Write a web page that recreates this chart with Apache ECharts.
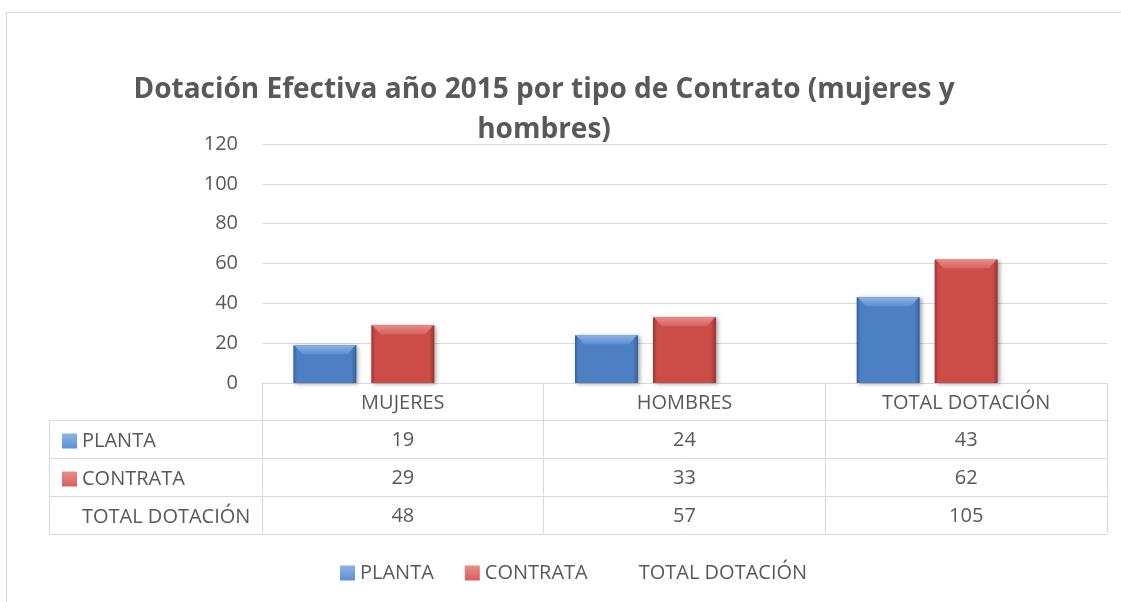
<!DOCTYPE html>
<html>
<head>
<meta charset="utf-8">
<title>Dotación Efectiva 2015</title>
<script src="https://cdn.jsdelivr.net/npm/echarts@6/dist/echarts.min.js"></script>
<style>
  html, body { margin: 0; padding: 0; background: #fff; overflow: hidden; }
  #frame { position: absolute; left: 6px; top: 12px; width: 1200px; height: 700px; border: 1px solid #d9d9d9; }
  #chart { position: absolute; left: 0; top: 0; width: 1121px; height: 602px; }
</style>
</head>
<body>
<div id="frame"></div>
<div id="chart"></div>
<script>
// data
const categories = ['MUJERES', 'HOMBRES', 'TOTAL DOTACIÓN']
const seriesNames = ['PLANTA', 'CONTRATA', 'TOTAL DOTACIÓN']
const planta = [19, 24, 43]
const contrata = [29, 33, 62]
const totalDotacion = [48, 57, 105]
const yTicks = [0, 20, 40, 60, 80, 100, 120]
const titleText = 'Dotación Efectiva año 2015 por tipo de Contrato (mujeres y\nhombres)'

const textColor = '#595959'
const lineColor = '#d9d9d9'
const font = '"Open Sans", "Noto Sans", sans-serif'
const tableFont = 20
// table row lines, below the plot bottom
const rowOffsets = [0, 37, 75, 113, 151]
const barW = 63
const barGap = 15

const palette = {
  blue: { edge: '#33609c', body: '#4d80c3', top: '#8cb2e6', topEnd: '#5d8fd2' },
  red: { edge: '#983330', body: '#cc4c48', top: '#e98d89', topEnd: '#d75f5b' }
}

function sideFill(c) {
  return new echarts.graphic.LinearGradient(0, 0, 1, 0, [
    { offset: 0, color: c.edge },
    { offset: 0.06, color: c.body },
    { offset: 0.92, color: c.body },
    { offset: 1, color: c.edge }
  ])
}
function topFill(c) {
  return new echarts.graphic.LinearGradient(0, 0, 0, 1, [
    { offset: 0, color: c.top },
    { offset: 1, color: c.topEnd }
  ])
}

// bevelled bar, placed with the chart's own scales
function bevelBar(slot, c) {
  return function (params, api) {
    const cat = api.value(0)
    const top = api.coord([cat, api.value(1)])
    const base = api.coord([cat, 0])
    const x = base[0] + (slot - 1) * (barW + barGap) - barW / 2
    const y = top[1]
    const h = base[1] - top[1]
    const b = Math.min(9, h / 2)
    return {
      type: 'group',
      children: [
        {
          type: 'rect',
          shape: { x, y, width: barW, height: h },
          style: { fill: sideFill(c), shadowColor: 'rgba(0,0,0,0.35)', shadowBlur: 4, shadowOffsetX: 2, shadowOffsetY: 1 }
        },
        {
          type: 'polygon',
          shape: { points: [[x + 1, y], [x + barW - 1, y], [x + barW - b, y + b], [x + b, y + b]] },
          style: { fill: topFill(c) }
        }
      ]
    }
  }
}

// one table row drawn as an extra category axis under the plot
function rowAxis(idx, values, opts) {
  return Object.assign({
    type: 'category',
    data: categories,
    position: 'bottom',
    offset: rowOffsets[idx],
    axisLine: { show: true, lineStyle: { color: lineColor, width: 1 } },
    axisTick: { show: true, length: 37, lineStyle: { color: lineColor } },
    axisLabel: {
      interval: 0,
      margin: 20,
      verticalAlign: 'middle',
      fontSize: tableFont,
      fontFamily: font,
      color: textColor,
      formatter: (v, i) => String(values ? values[i] : v)
    },
    splitLine: { show: false }
  }, opts || {})
}

const chart = echarts.init(document.getElementById('chart'))

chart.setOption({
  animation: false,
  graphic: [
    {
      type: 'text',
      x: 544,
      y: 70,
      style: {
        text: titleText,
        align: 'center',
        verticalAlign: 'top',
        font: 'bold 28px ' + font,
        fill: textColor,
        lineHeight: 40
      }
    }
  ],
  legend: [
    {
      // row headers of the data table
      data: seriesNames,
      orient: 'vertical',
      left: 57,
      top: 425,
      itemWidth: 15,
      itemHeight: 15,
      itemGap: 16,
      icon: 'rect',
      selectedMode: false,
      textStyle: { fontFamily: font, fontSize: tableFont, color: textColor, lineHeight: 22 }
    },
    {
      data: seriesNames,
      left: 335,
      top: 558,
      itemWidth: 15,
      itemHeight: 15,
      itemGap: 31,
      icon: 'rect',
      selectedMode: false,
      textStyle: { fontFamily: font, fontSize: tableFont, color: textColor }
    }
  ],
  grid: [
    { left: 262, right: 14, top: 144, bottom: 219, containLabel: false },
    { left: 49, width: 213, top: 420, height: 114, containLabel: false }
  ],
  xAxis: [
    rowAxis(0, null),
    rowAxis(1, planta),
    rowAxis(2, contrata),
    rowAxis(3, totalDotacion),
    rowAxis(4, null, { axisTick: { show: false }, axisLabel: { show: false } }),
    { type: 'value', gridIndex: 1, show: false }
  ],
  yAxis: [
    {
      type: 'value',
      min: yTicks[0],
      max: yTicks[yTicks.length - 1],
      interval: yTicks[1] - yTicks[0],
      axisLine: { show: false },
      axisTick: { show: false },
      axisLabel: { margin: 24, fontSize: tableFont, fontFamily: font, color: textColor },
      splitLine: { lineStyle: { color: lineColor, width: 1 } }
    },
    {
      // left column of the data table
      type: 'category',
      gridIndex: 1,
      data: seriesNames,
      inverse: true,
      axisLine: { show: true, lineStyle: { color: lineColor } },
      axisTick: { show: true, inside: true, length: 213, lineStyle: { color: lineColor } },
      axisLabel: { show: false }
    }
  ],
  series: [
    {
      name: seriesNames[0],
      type: 'custom',
      renderItem: bevelBar(0, palette.blue),
      itemStyle: { color: topFill(palette.blue) },
      encode: { x: 0, y: 1 },
      data: planta.map((v, i) => [i, v])
    },
    {
      name: seriesNames[1],
      type: 'custom',
      renderItem: bevelBar(1, palette.red),
      itemStyle: { color: topFill(palette.red) },
      encode: { x: 0, y: 1 },
      data: contrata.map((v, i) => [i, v])
    },
    {
      // no fill in the chart, only shown in the table
      name: seriesNames[2],
      type: 'custom',
      renderItem: () => null,
      itemStyle: { color: 'rgba(0,0,0,0)' },
      encode: { x: 0, y: 1 },
      data: totalDotacion.map((v, i) => [i, v])
    }
  ]
})
</script>
</body>
</html>
